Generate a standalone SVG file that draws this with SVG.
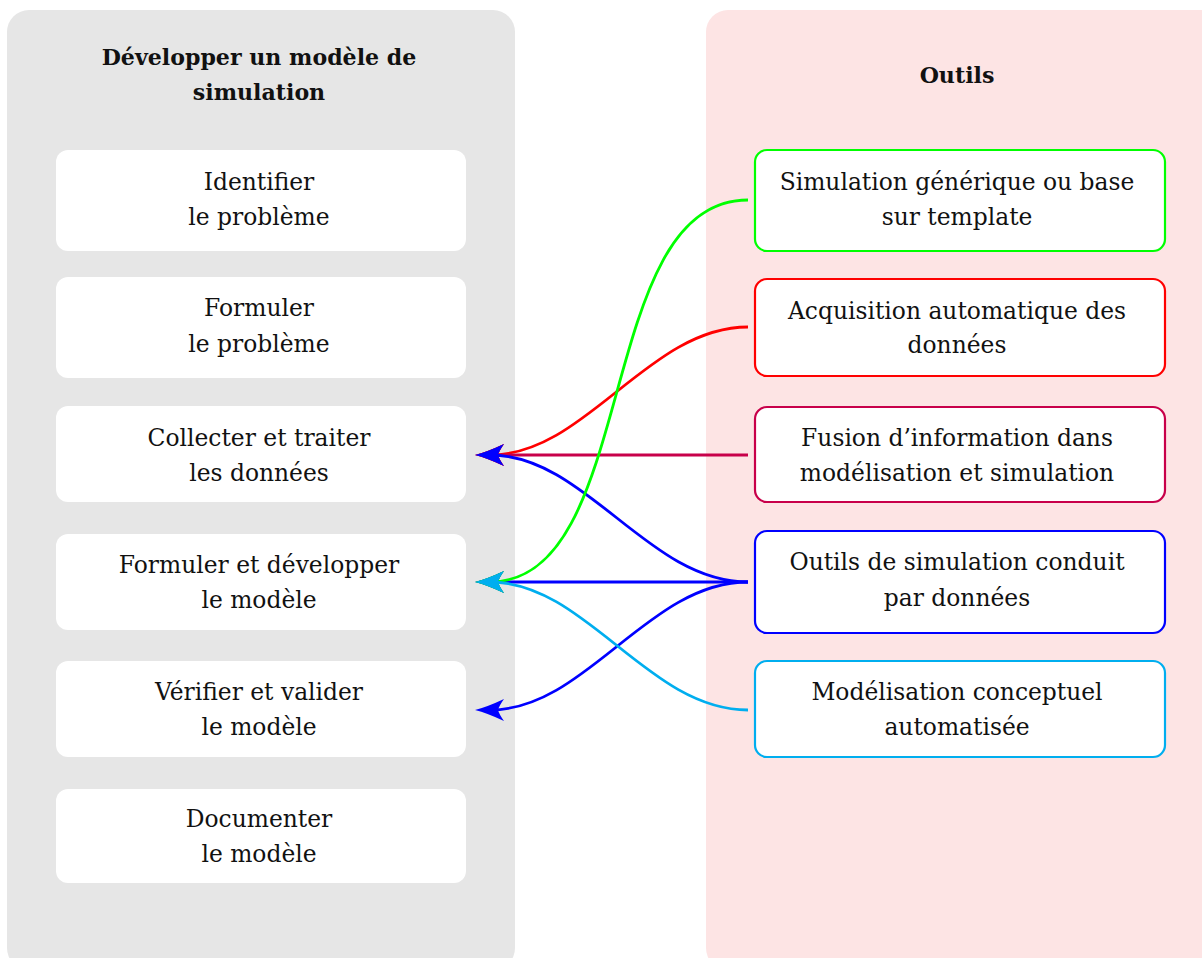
<svg xmlns="http://www.w3.org/2000/svg" width="1202" height="958" viewBox="0 0 1202 958">
<style>
.t{font-family:"DejaVu Serif","Liberation Serif",serif;font-size:23.4px;fill:#111;text-anchor:middle}
.h{font-family:"DejaVu Serif","Liberation Serif",serif;font-size:22.1px;font-weight:bold;fill:#111;text-anchor:middle}
.ln{fill:#fff;stroke:none}
.rn{fill:#fff;stroke-width:2.2}
.c{fill:none;stroke-width:2.8}
</style>
<defs>
<marker id="aR" markerUnits="userSpaceOnUse" orient="auto" markerWidth="40" markerHeight="40" refX="0" refY="0" viewBox="-20 -16 40 32" overflow="visible"><path d="M15,0 Q3,-3 -14,-11 Q-9,-4 -8,0 Q-9,4 -14,11 Q3,3 15,0 Z" fill="#ff0000"/></marker>
<marker id="aC" markerUnits="userSpaceOnUse" orient="auto" markerWidth="40" markerHeight="40" refX="0" refY="0" viewBox="-20 -16 40 32" overflow="visible"><path d="M15,0 Q3,-3 -14,-11 Q-9,-4 -8,0 Q-9,4 -14,11 Q3,3 15,0 Z" fill="#c8004a"/></marker>
<marker id="aB" markerUnits="userSpaceOnUse" orient="auto" markerWidth="40" markerHeight="40" refX="0" refY="0" viewBox="-20 -16 40 32" overflow="visible"><path d="M15,0 Q3,-3 -14,-11 Q-9,-4 -8,0 Q-9,4 -14,11 Q3,3 15,0 Z" fill="#0000ff"/></marker>
<marker id="aG" markerUnits="userSpaceOnUse" orient="auto" markerWidth="40" markerHeight="40" refX="0" refY="0" viewBox="-20 -16 40 32" overflow="visible"><path d="M15,0 Q3,-3 -14,-11 Q-9,-4 -8,0 Q-9,4 -14,11 Q3,3 15,0 Z" fill="#00ff00"/></marker>
<marker id="aY" markerUnits="userSpaceOnUse" orient="auto" markerWidth="40" markerHeight="40" refX="0" refY="0" viewBox="-20 -16 40 32" overflow="visible"><path d="M15,0 Q3,-3 -14,-11 Q-9,-4 -8,0 Q-9,4 -14,11 Q3,3 15,0 Z" fill="#00aeef"/></marker>
</defs>
<rect width="1202" height="958" fill="#fff"/>
<g id="panel-left">
<rect x="7" y="10" width="508" height="960" rx="22" fill="#e6e6e6"/>
<text class="h" x="259" y="65">Développer un modèle de</text>
<text class="h" x="259" y="100">simulation</text>
</g>
<g id="panel-right">
<rect x="706" y="10" width="520" height="960" rx="22" fill="#fde4e4"/>
<text class="h" x="957" y="83">Outils</text>
</g>
<g id="n-identifier"><rect class="ln" x="56" y="150" width="410" height="101" rx="12"/><text class="t" x="259" y="190">Identifier</text><text class="t" x="259" y="225">le problème</text></g>
<g id="n-formuler"><rect class="ln" x="56" y="277" width="410" height="101" rx="12"/><text class="t" x="259" y="316">Formuler</text><text class="t" x="259" y="352">le problème</text></g>
<g id="n-collecter"><rect class="ln" x="56" y="406" width="410" height="96" rx="12"/><text class="t" x="259" y="446">Collecter et traiter</text><text class="t" x="259" y="481">les données</text></g>
<g id="n-developper"><rect class="ln" x="56" y="534" width="410" height="96" rx="12"/><text class="t" x="259" y="573">Formuler et développer</text><text class="t" x="259" y="608">le modèle</text></g>
<g id="n-verifier"><rect class="ln" x="56" y="661" width="410" height="96" rx="12"/><text class="t" x="259" y="700">Vérifier et valider</text><text class="t" x="259" y="735">le modèle</text></g>
<g id="n-documenter"><rect class="ln" x="56" y="789" width="410" height="94" rx="12"/><text class="t" x="259" y="827">Documenter</text><text class="t" x="259" y="862">le modèle</text></g>
<g id="t-generique"><rect class="rn" x="755" y="150" width="410" height="101" rx="12" stroke="#00ff00"/><text class="t" x="957" y="190">Simulation générique ou base</text><text class="t" x="957" y="225">sur template</text></g>
<g id="t-acquisition"><rect class="rn" x="755" y="279" width="410" height="97" rx="12" stroke="#ff0000"/><text class="t" x="957" y="319">Acquisition automatique des</text><text class="t" x="957" y="353">données</text></g>
<g id="t-fusion"><rect class="rn" x="755" y="407" width="410" height="95" rx="12" stroke="#c8004a"/><text class="t" x="957" y="446">Fusion d’information dans</text><text class="t" x="957" y="481">modélisation et simulation</text></g>
<g id="t-outils"><rect class="rn" x="755" y="531" width="410" height="102" rx="12" stroke="#0000ff"/><text class="t" x="957" y="570">Outils de simulation conduit</text><text class="t" x="957" y="606">par données</text></g>
<g id="t-conceptuel"><rect class="rn" x="755" y="661" width="410" height="96" rx="12" stroke="#00aeef"/><text class="t" x="957" y="700">Modélisation conceptuel</text><text class="t" x="957" y="735">automatisée</text></g>
<g id="connectors">
<path class="c" stroke="#ff0000" marker-end="url(#aR)" d="M748,327 C648,327 586,455 490,455"/>
<path class="c" stroke="#c8004a" marker-end="url(#aC)" d="M748,455 L490,455"/>
<path class="c" stroke="#0000ff" marker-end="url(#aB)" d="M748,582 C648,582 586,455 490,455"/>
<path class="c" stroke="#0000ff" marker-end="url(#aB)" d="M748,582 L490,582"/>
<path class="c" stroke="#0000ff" marker-end="url(#aB)" d="M748,582 C648,582 586,710 490,710"/>
<path class="c" stroke="#00ff00" marker-end="url(#aG)" d="M748,200 C593,200 640,582 490,582"/>
<path class="c" stroke="#00aeef" marker-end="url(#aY)" d="M748,710 C648,710 586,582 490,582"/>
</g>
</svg>
